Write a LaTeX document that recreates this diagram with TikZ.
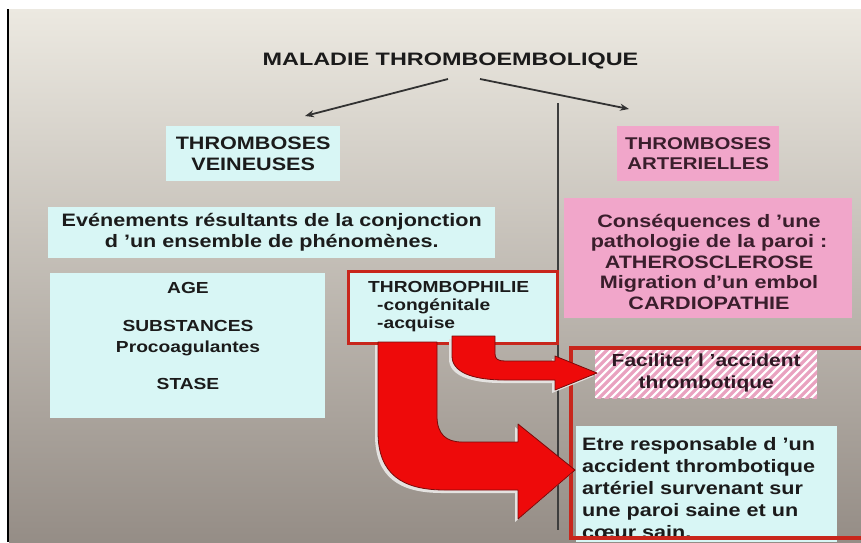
\documentclass[tikz,border=0pt]{standalone}
\usepackage{fontspec}
\setmainfont{Liberation Sans}[FakeStretch=1.2]
\newfontfamily\titlefont{Liberation Sans}[FakeStretch=1.3]
\usetikzlibrary{arrows.meta}
\definecolor{bgtop}{HTML}{ECE9E1}
\definecolor{bgbot}{HTML}{958D86}
\definecolor{cyanbox}{HTML}{D8F6F5}
\definecolor{pinkbox}{HTML}{F1A6CA}
\definecolor{hatchpink}{HTML}{E9A2C0}
\definecolor{framered}{HTML}{C8261C}
\definecolor{arrowred}{HTML}{EE0A0A}
\definecolor{arrowedge}{HTML}{7A0A0A}
\definecolor{ink}{HTML}{1B1B1B}
\definecolor{pinkink}{HTML}{3A1E2C}
\definecolor{shadowgray}{HTML}{E4E2E0}
\tikzset{
  boxbase/.style={inner sep=0pt, anchor=north west, align=center, text=ink},
  cbox/.style={boxbase, fill=cyanbox},
  pbox/.style={boxbase, fill=pinkbox, text=pinkink},
  txt/.style={inner sep=0pt, text=ink},
  thinarrow/.style={draw=ink!90, line width=1.8pt, -{Stealth[length=9pt,width=7pt]}},
  sepline/.style={draw=ink!85, line width=1.2pt},
  redframe/.style={draw=framered, line width=3.5pt},
  redarrow/.style={fill=arrowred, draw=arrowedge, line width=0.8pt, line join=round},
  arrowshadow/.style={fill=shadowgray, draw=none, shift={(-3,3)}},
  hatchline/.style={draw=hatchpink, line width=3.2pt}
}
\begin{document}
\begin{tikzpicture}[x=1pt,y=-1pt,font=\bfseries]
\useasboundingbox (0,0) rectangle (861,542);
\fill[white] (0,0) rectangle (861,542);
\shade[top color=bgtop, bottom color=bgbot] (9,9) rectangle (861,542);
\draw[black, line width=2pt] (8,9) -- (8,542);

% title
\node[txt, anchor=base, font=\titlefont\bfseries\fontsize{18}{21}\selectfont] (title) at (450.5,65) {MALADIE THROMBOEMBOLIQUE};
\coordinate (l1) at (448,79);
\coordinate (l2) at (305,116);
\coordinate (r1) at (480,79);
\coordinate (r2) at (629,109);
\draw[thinarrow] (l1) -- (l2);
\draw[thinarrow] (r1) -- (r2);

% separator
\coordinate (vtop) at (558,103);
\coordinate (vbot) at (558,530);
\draw[sepline] (vtop) -- (vbot);

% left column
\node[cbox, minimum width=174pt, minimum height=55pt, font=\bfseries\fontsize{18}{21}\selectfont] (veine) at (166,126) {THROMBOSES\\VEINEUSES};
\node[cbox, minimum width=447pt, minimum height=51pt, font=\bfseries\fontsize{18}{21}\selectfont] (even) at (48,207) {Evénements résultants de la conjonction\\d ’un ensemble de phénomènes.};
\node[cbox, minimum width=275pt, minimum height=145pt] (age) at (50,273) {};
\node[txt, anchor=base] (aget) at (188,293) {\parbox[t]{270pt}{\centering\fontsize{16}{21}\selectfont AGE\\[17pt]SUBSTANCES\\Procoagulantes\\[16pt]STASE}};
\node[cbox, draw=framered, line width=3.5pt, minimum width=209pt, minimum height=72pt] (thrombo) at (346.5,269.5) {};
\node[txt, anchor=base west] (thrombot) at (368,292) {\parbox[t]{180pt}{\raggedright\fontsize{16}{18}\selectfont THROMBOPHILIE\\\hspace*{9pt}-congénitale\\\hspace*{9pt}-acquise}};

% right column
\node[pbox, minimum width=162pt, minimum height=55pt, font=\bfseries\fontsize{17}{20.5}\selectfont] (arter) at (617,126) {THROMBOSES\\ARTERIELLES};
\node[pbox, minimum width=288pt, minimum height=120pt] (conseq) at (564,198) {};
\node[txt, text=pinkink, anchor=base] (conseqt) at (709,227) {\parbox[t]{300pt}{\centering\fontsize{18}{20.5}\selectfont Conséquences d ’une\\pathologie de la paroi :\\ATHEROSCLEROSE\\Migration d’un embol\\CARDIOPATHIE}};

% hatched box
\node[boxbase, minimum width=222pt, minimum height=50pt, fill=white] (facil) at (595,348) {};
\begin{scope}
  \clip (595,348) rectangle (817,398);
  \foreach \k in {0,...,40}{\draw[hatchline] (525+\k*8,408) -- (595+\k*8,338);}
\end{scope}
\node[txt, align=center, font=\bfseries\fontsize{17.5}{22}\selectfont, text=pinkink!80!black] (facilt) at (facil.center) {Faciliter l ’accident\\thrombotique};

\node[cbox, minimum width=261pt, minimum height=116pt] (etre) at (576,426) {};
\node[txt, anchor=base west] (etret) at (582,450) {\parbox[t]{255pt}{\raggedright\fontsize{18}{22}\selectfont Etre responsable d ’un\\accident thrombotique\\artériel survenant sur\\une paroi saine et un\\cœur sain.}};

\node[redframe, inner sep=0pt, anchor=north west, minimum width=306pt, minimum height=190pt] (group) at (569,346) {};

% red block arrows
\path[arrowshadow] (452,336) -- (495,336) -- (495,354) .. controls (495,359) and (498,361) .. (505,361) -- (555,361) -- (555,356) -- (597,373) -- (555,390) -- (555,380) -- (505,380) .. controls (472,380) and (452,372) .. (452,356) -- cycle;
\path[redarrow] (452,336) -- (495,336) -- (495,354) .. controls (495,359) and (498,361) .. (505,361) -- (555,361) -- (555,356) -- (597,373) -- (555,390) -- (555,380) -- (505,380) .. controls (472,380) and (452,372) .. (452,356) -- cycle;
\path[arrowshadow] (378,342) -- (437,342) -- (437,416) .. controls (437,434) and (446,442) .. (462,442) -- (518,442) -- (518,424) -- (575,470) -- (518,519) -- (518,490) -- (445,490) .. controls (402,490) and (378,474) .. (378,432) -- cycle;
\path[redarrow] (378,342) -- (437,342) -- (437,416) .. controls (437,434) and (446,442) .. (462,442) -- (518,442) -- (518,424) -- (575,470) -- (518,519) -- (518,490) -- (445,490) .. controls (402,490) and (378,474) .. (378,432) -- cycle;
\end{tikzpicture}
\end{document}
